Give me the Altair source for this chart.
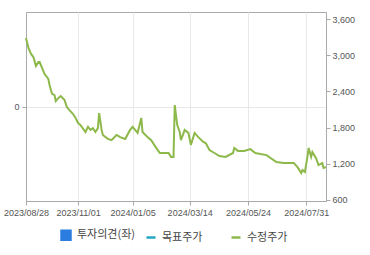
import altair as alt
import pandas as pd

# trading-day index (0 = 2023/08/28) and adjusted price (수정주가)
day_idx = [0, 1, 2, 4, 6, 8, 10, 11, 13, 15, 18, 19, 21, 23, 24, 26, 28, 31, 33, 35,
           38, 40, 42, 44, 48, 50, 52, 54, 56, 58, 59, 61, 62, 66, 69, 73, 76, 80, 84, 86,
           90, 91, 93, 94, 98, 101, 105, 108, 112, 115, 117, 119, 120, 122, 124, 125, 128, 131, 133, 136,
           139, 143, 145, 148, 152, 156, 161, 167, 168, 171, 176, 181, 185, 194, 202, 208, 216, 219, 222, 223,
           225, 227, 228, 230, 231, 234, 236, 239, 240, 242]
price = [3290, 3210, 3125, 3025, 2975, 2825, 2890, 2890, 2790, 2690, 2610, 2510, 2360, 2340, 2240, 2290, 2325, 2260, 2140, 2090,
         2025, 1960, 1875, 1840, 1725, 1810, 1760, 1790, 1725, 1790, 2040, 1760, 1675, 1610, 1590, 1675, 1640, 1610, 1760, 1810,
         1710, 1790, 1960, 1725, 1640, 1590, 1460, 1375, 1375, 1375, 1310, 1310, 2175, 1840, 1725, 1590, 1760, 1710, 1510, 1710,
         1640, 1560, 1540, 1425, 1375, 1325, 1310, 1375, 1460, 1410, 1410, 1440, 1375, 1340, 1225, 1210, 1210, 1140, 1040, 1090,
         1060, 1310, 1460, 1310, 1390, 1290, 1175, 1210, 1125, 1140]

tick_idx = [0, 42, 86, 132, 179, 226]
tick_labels = ["2023/08/28", "2023/11/01", "2024/01/05", "2024/03/14", "2024/05/24", "2024/07/31"]
right_ticks = [600, 1200, 1800, 2400, 3000, 3600]

series = ["투자의견(좌)", "목표주가", "수정주가"]
series_colors = ["#2b7de0", "#1fa9c0", "#8db84a"]
series_shapes = ["square", "stroke", "stroke"]

price_df = pd.DataFrame({"idx": day_idx, "price": price})
legend_df = pd.DataFrame({"series": series, "idx": [0, 0, 0], "v": [0, 0, 0]})

label_expr = ""
for i, l in zip(tick_idx, tick_labels):
    label_expr += f"datum.value == {i} ? '{l}' : "
label_expr += "''"

FONT = "Liberation Sans"
KFONT = "Noto Sans CJK KR"

x_enc = alt.X("idx:Q",
              scale=alt.Scale(domain=[0, 242], nice=False, zero=False),
              axis=alt.Axis(values=tick_idx, labelExpr=label_expr, title=None,
                            grid=True, gridColor="#e8e8e8", domainColor="#aaaaaa",
                            tickColor="#aaaaaa", tickSize=4, labelColor="#555555",
                            labelFont=FONT, labelFontSize=9, labelPadding=3,
                            labelOverlap=False, labelFlush=False))

color_scale = alt.Scale(domain=series, range=series_colors)

left = alt.Chart(legend_df).mark_point(filled=True, opacity=1).encode(
    x=x_enc,
    y=alt.Y("v:Q", scale=alt.Scale(domain=[-1, 1], nice=False),
            axis=alt.Axis(values=[0], title=None, orient="left", grid=True,
                          gridColor="#e8e8e8", domainColor="#aaaaaa", tickColor="#aaaaaa",
                          tickSize=4, labelColor="#555555", labelFont=FONT,
                          labelFontSize=9, labelPadding=3)),
    size=alt.value(0),
    color=alt.Color("series:N", scale=color_scale, title=None,
                    legend=alt.Legend(orient="none", legendX=34, legendY=217,
                                      direction="horizontal", columns=3,
                                      gridAlign="all", columnPadding=5, padding=0,
                                      symbolOpacity=1, symbolSize=81, symbolStrokeWidth=2.5,
                                      labelFont=KFONT, labelFontSize=11, labelColor="#444444",
                                      labelOffset=5)),
    stroke=alt.Stroke("series:N", scale=color_scale, title=None),
    shape=alt.Shape("series:N", scale=alt.Scale(domain=series, range=series_shapes), title=None),
)

line = alt.Chart(price_df).mark_line(color="#8db84a", strokeWidth=2).encode(
    x=x_enc,
    y=alt.Y("price:Q", scale=alt.Scale(domain=[575, 3725], nice=False, zero=False),
            axis=alt.Axis(values=right_ticks, format=",.0f", title=None, orient="right",
                          grid=False, domainColor="#aaaaaa", tickColor="#aaaaaa",
                          tickSize=4, labelColor="#555555", labelFont=FONT,
                          labelFontSize=9, labelPadding=2)),
)

chart = alt.layer(left, line).resolve_scale(y="independent").properties(
    width=300, height=189,
    autosize=alt.AutoSizeParams(type="none"),
    padding={"left": 26, "top": 12, "right": 44, "bottom": 54},
    background="white",
).configure_view(stroke="#aaaaaa", strokeWidth=1)

chart.save("out.html", embed_options={"renderer": "svg", "actions": False})
